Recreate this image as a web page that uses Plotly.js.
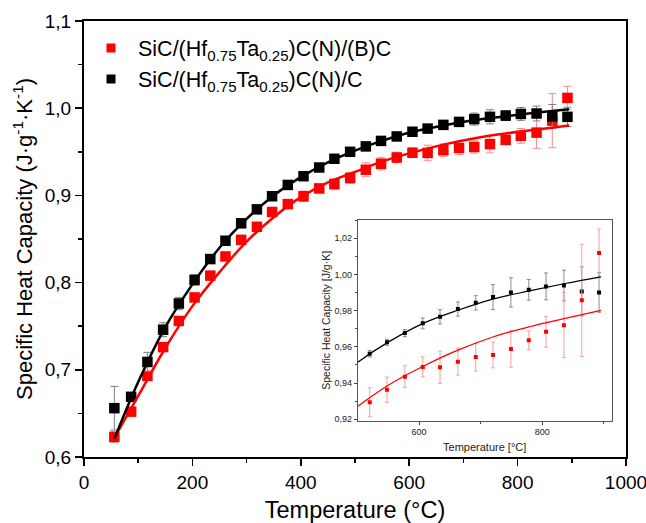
<!DOCTYPE html>
<html>
<head>
<meta charset="utf-8">
<script src="https://cdn.plot.ly/plotly-3.0.1.min.js"></script>
<style>html,body{margin:0;padding:0;background:#fff;}#chart{width:646px;height:523px;}</style>
</head>
<body>
<div id="chart"></div>
<script>
// Measured temperatures (°C)
var temps = [56, 87, 117, 146, 175, 204, 233, 261, 290, 319, 347, 376, 405, 434, 462, 491,
             520, 548, 577, 606, 634, 663, 692, 720, 749, 778, 806, 835, 864, 892];
// SiC/(Hf0.75Ta0.25)C(N)/(B)C  (red)
var cpRed = [0.623, 0.652, 0.693, 0.726, 0.756, 0.783, 0.808, 0.830, 0.849, 0.864, 0.881, 0.890, 0.899, 0.908, 0.913, 0.920,
             0.9294, 0.9363, 0.9435, 0.9489, 0.9487, 0.9518, 0.9544, 0.9555, 0.9588, 0.9636, 0.9683, 0.9720, 0.9857, 1.0118];
var errRed = [0.006, 0.004, 0.004, 0.004, 0.004, 0.004, 0.004, 0.004, 0.004, 0.004, 0.004, 0.005, 0.006, 0.005, 0.006, 0.006,
              0.008, 0.007, 0.006, 0.0055, 0.0089, 0.0074, 0.0077, 0.0071, 0.0101, 0.0052, 0.0085, 0.018, 0.031, 0.0133];
// SiC/(Hf0.75Ta0.25)C(N)/C  (black)
var cpBlack = [0.656, 0.669, 0.709, 0.746, 0.776, 0.803, 0.827, 0.848, 0.868, 0.884, 0.899, 0.912, 0.922, 0.932, 0.942, 0.950,
               0.9562, 0.9625, 0.9676, 0.9730, 0.9766, 0.9809, 0.9843, 0.9875, 0.9901, 0.9915, 0.9934, 0.9939, 0.9906, 0.9901];
var errBlack = [0.025, 0.004, 0.011, 0.008, 0.007, 0.006, 0.004, 0.004, 0.004, 0.003, 0.003, 0.003, 0.003, 0.003, 0.003, 0.003,
                0.0018, 0.0017, 0.002, 0.003, 0.0039, 0.0039, 0.004, 0.0069, 0.0081, 0.0057, 0.0074, 0.0085, 0.0136, 0.011];
// Fitted curves
var fitT = [56, 100, 150, 200, 250, 300, 350, 400, 450, 500, 548, 605, 663, 721, 779, 837, 895];
var fitRed = [0.622, 0.670, 0.725, 0.773, 0.812, 0.847, 0.875, 0.898, 0.915, 0.927, 0.9384, 0.949, 0.9582, 0.9656, 0.9711, 0.9757, 0.9802];
var fitBlack = [0.621, 0.686, 0.749, 0.798, 0.840, 0.873, 0.900, 0.921, 0.938, 0.9514, 0.9622, 0.9727, 0.9802, 0.9865, 0.9909, 0.9950, 0.9987];

var nameRed = 'SiC/(Hf<sub>0.75</sub>Ta<sub>0.25</sub>)C(N)/(B)C';
var nameBlack = 'SiC/(Hf<sub>0.75</sub>Ta<sub>0.25</sub>)C(N)/C';

var traces = [
  {x: temps, y: cpRed, type: 'scatter', mode: 'markers', showlegend: false,
   marker: {symbol: 'square', size: 10.5, color: '#ff0000'},
   error_y: {type: 'data', array: errRed, visible: true, color: '#ff8a8a', thickness: 1, width: 4},
   xaxis: 'x', yaxis: 'y'},
  {x: temps, y: cpBlack, type: 'scatter', mode: 'markers', showlegend: false,
   marker: {symbol: 'square', size: 10.5, color: '#000000'},
   error_y: {type: 'data', array: errBlack, visible: true, color: '#808080', thickness: 1, width: 4},
   xaxis: 'x', yaxis: 'y'},
  {x: fitT, y: fitRed, type: 'scatter', mode: 'lines', showlegend: false,
   line: {color: '#ff0000', width: 2.5, shape: 'spline'}, xaxis: 'x', yaxis: 'y'},
  {x: fitT, y: fitBlack, type: 'scatter', mode: 'lines', showlegend: false,
   line: {color: '#000000', width: 2.5, shape: 'spline'}, xaxis: 'x', yaxis: 'y'},
  // inset
  {x: temps, y: cpBlack, type: 'scatter', mode: 'markers', showlegend: false,
   marker: {symbol: 'square', size: 4, color: '#000000'},
   error_y: {type: 'data', array: errBlack, visible: true, color: '#8c8c8c', thickness: 1, width: 2},
   xaxis: 'x2', yaxis: 'y2'},
  {x: temps, y: cpRed, type: 'scatter', mode: 'markers', showlegend: false,
   marker: {symbol: 'square', size: 4, color: '#ff0000'},
   error_y: {type: 'data', array: errRed, visible: true, color: '#ff9a9a', thickness: 1, width: 2},
   xaxis: 'x2', yaxis: 'y2'},
  {x: fitT, y: fitBlack, type: 'scatter', mode: 'lines', showlegend: false,
   line: {color: '#000000', width: 1.2, shape: 'spline'}, xaxis: 'x2', yaxis: 'y2'},
  {x: fitT, y: fitRed, type: 'scatter', mode: 'lines', showlegend: false,
   line: {color: '#ff0000', width: 1.2, shape: 'spline'}, xaxis: 'x2', yaxis: 'y2'},
  // legend entries (no data)
  {x: [null], y: [null], type: 'scatter', mode: 'markers', name: nameRed, legendgroup: 'r',
   marker: {symbol: 'square', size: 9, color: '#ff0000'}, xaxis: 'x', yaxis: 'y'},
  {x: [null], y: [null], type: 'scatter', mode: 'markers', name: nameBlack, legendgroup: 'b',
   marker: {symbol: 'square', size: 9, color: '#000000'}, xaxis: 'x', yaxis: 'y'}
];

var font = 'Liberation Sans, Arial, sans-serif';
var layout = {
  width: 646, height: 523,
  margin: {l: 84, r: 20, t: 21, b: 66},
  paper_bgcolor: '#ffffff', plot_bgcolor: 'rgba(0,0,0,0)',
  separators: ',.',
  font: {family: font, color: '#000'},
  showlegend: true,
  legend: {x: 0, y: 0.985, xanchor: 'left', yanchor: 'top', bgcolor: 'rgba(0,0,0,0)',
           itemwidth: 44, traceorder: 'normal',
           font: {size: 21.5, family: font, color: '#000'}, tracegroupgap: 3},
  xaxis: {domain: [0, 1], range: [0, 1000], dtick: 200, tick0: 0,
          ticks: 'outside', ticklen: 7, tickwidth: 1.5, tickcolor: '#000',
          minor: {dtick: 100, ticks: 'outside', ticklen: 4, tickwidth: 1.5, tickcolor: '#000'},
          showline: true, linewidth: 2, linecolor: '#000', mirror: true,
          showgrid: false, zeroline: false, ticklabeloverflow: 'allow',
          tickfont: {size: 19, family: font, color: '#000'},
          title: {text: 'Temperature (°C)', font: {size: 23.5, family: font, color: '#000'}, standoff: 12}},
  yaxis: {domain: [0, 1], range: [0.6, 1.1], dtick: 0.1, tick0: 0, tickformat: '.1f',
          ticks: 'outside', ticklen: 7, tickwidth: 1.5, tickcolor: '#000',
          minor: {dtick: 0.05, ticks: 'outside', ticklen: 4, tickwidth: 1.5, tickcolor: '#000'},
          showline: true, linewidth: 2, linecolor: '#000', mirror: true,
          showgrid: false, zeroline: false, ticklabeloverflow: 'allow',
          tickfont: {size: 19, family: font, color: '#000'},
          title: {text: 'Specific Heat Capacity (J·g<sup>-1</sup>·K<sup>-1</sup>)', font: {size: 22, family: font, color: '#000'}, standoff: 6}},
  xaxis2: {domain: [0.505, 0.9736], anchor: 'y2', range: [500.5, 912.5], dtick: 200, tick0: 0,
           ticks: 'outside', ticklen: 3, tickwidth: 1, tickcolor: '#444',
           minor: {dtick: 100, ticks: 'outside', ticklen: 2, tickwidth: 1, tickcolor: '#444'},
           showline: true, linewidth: 1, linecolor: '#555', mirror: true,
           showgrid: false, zeroline: false,
           tickfont: {size: 9, family: font, color: '#222'},
           title: {text: 'Temperature [°C]', font: {size: 11, family: font, color: '#222'}, standoff: 6}},
  yaxis2: {domain: [0.0833, 0.5436], anchor: 'x2', range: [0.9192, 1.0301], dtick: 0.02, tick0: 0, tickformat: '.2f',
           ticks: 'outside', ticklen: 3, tickwidth: 1, tickcolor: '#444',
           minor: {dtick: 0.01, ticks: 'outside', ticklen: 2, tickwidth: 1, tickcolor: '#444'},
           showline: true, linewidth: 1, linecolor: '#555', mirror: true,
           showgrid: false, zeroline: false,
           tickfont: {size: 9, family: font, color: '#222'},
           title: {text: 'Specific Heat Capacity [J/g·K]', font: {size: 10.5, family: font, color: '#222'}, standoff: 1}}
};

Plotly.newPlot('chart', traces, layout, {displayModeBar: false, staticPlot: true});
</script>
</body>
</html>
